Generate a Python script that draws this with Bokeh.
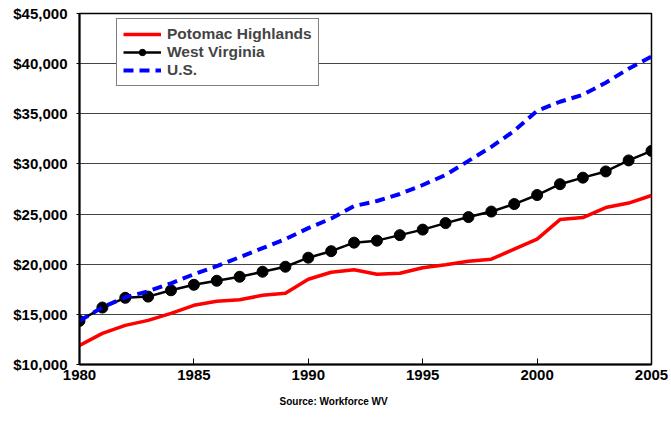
from bokeh.plotting import figure
from bokeh.models import (Range1d, FixedTicker, NumeralTickFormatter, Legend, LegendItem, Title)
from bokeh.embed import file_html
from bokeh.resources import INLINE

years = list(range(1980, 2006))
potomac = [11900, 13100, 13900, 14400, 15100, 15900, 16300, 16450, 16900, 17100,
           18500, 19200, 19450, 19000, 19100, 19650, 19950, 20300, 20500, 21500,
           22500, 24450, 24650, 25650, 26100, 26850]
west_virginia = [14350, 15680, 16650, 16770, 17400, 17950, 18350, 18750, 19250, 19750,
                 20650, 21300, 22150, 22350, 22900, 23450, 24100, 24700, 25250, 26000,
                 26900, 27980, 28630, 29250, 30350, 31300]
us = [14350, 15700, 16700, 17300, 18100, 19000, 19800, 20700, 21600, 22500,
      23600, 24550, 25800, 26300, 27000, 27900, 28900, 30300, 31700, 33300,
      35300, 36200, 36900, 38100, 39500, 40700]
x_ticks = [1980, 1985, 1990, 1995, 2000, 2005]
y_ticks = [10000, 15000, 20000, 25000, 30000, 35000, 40000, 45000]
series_names = ["Potomac Highlands", "West Virginia", "U.S."]
source_text = "Source: Workforce WV"

FONT = "Liberation Sans"

p = figure(width=671, height=422, output_backend="svg", toolbar_location=None,
           x_range=Range1d(1980, 2005), y_range=Range1d(10000, 45000),
           min_border_left=79, min_border_right=20, min_border_top=13, min_border_bottom=58)
p.background_fill_color = "white"
p.border_fill_color = "white"
p.outline_line_color = "black"
p.outline_line_width = 1.5

# axes
p.xaxis.ticker = FixedTicker(ticks=x_ticks)
p.yaxis.ticker = FixedTicker(ticks=y_ticks)
p.yaxis.formatter = NumeralTickFormatter(format="$0,0")
for ax in (p.xaxis[0], p.yaxis[0]):
    ax.axis_line_color = "black"
    ax.axis_line_width = 2
    ax.major_label_text_font = FONT
    ax.major_label_text_font_style = "bold"
    ax.major_label_text_font_size = "15px"
    ax.major_label_text_color = "black"
    ax.minor_tick_line_color = None
    ax.major_tick_line_color = "black"
    ax.major_tick_line_width = 1
p.xaxis.major_tick_in = 6
p.xaxis.major_tick_out = 0
p.xaxis.major_label_standoff = 5
p.xaxis.major_label_text_line_height = 1.5
p.yaxis.major_tick_in = 0
p.yaxis.major_tick_out = 3
p.yaxis.major_label_standoff = 9

p.xgrid.grid_line_color = None
p.ygrid.grid_line_color = "#444444"
p.ygrid.grid_line_width = 1

# series
r_pot = p.line(years, potomac, line_color="#ff0000", line_width=3.5)
r_wv_line = p.line(years, west_virginia, line_color="black", line_width=2.5)
r_wv_pts = p.scatter(years, west_virginia, size=11, marker="circle",
                     fill_color="black", line_color="black")
r_us = p.line(years, us, line_color="#0000ff", line_width=4, line_dash="10 6")

legend = Legend(items=[
    LegendItem(label=series_names[0], renderers=[r_pot]),
    LegendItem(label=series_names[1], renderers=[r_wv_line, r_wv_pts]),
    LegendItem(label=series_names[2], renderers=[r_us]),
], location=(37, 278))
legend.label_text_font = FONT
legend.label_text_font_style = "bold"
legend.label_text_font_size = "15.5px"
legend.label_height = 16
legend.glyph_height = 16
legend.glyph_width = 38
legend.label_standoff = 6
legend.spacing = 0
legend.padding = 6
legend.margin = 0
legend.border_line_color = "black"
legend.border_line_width = 1.5
legend.background_fill_alpha = 1
p.add_layout(legend)

src = Title(text=source_text, align="left", offset=200, text_font=FONT, text_font_style="bold",
            text_font_size="10px", text_color="black", standoff=22)
p.add_layout(src, "below")

html = file_html(p, INLINE)
open("out.html", "w").write(html)
